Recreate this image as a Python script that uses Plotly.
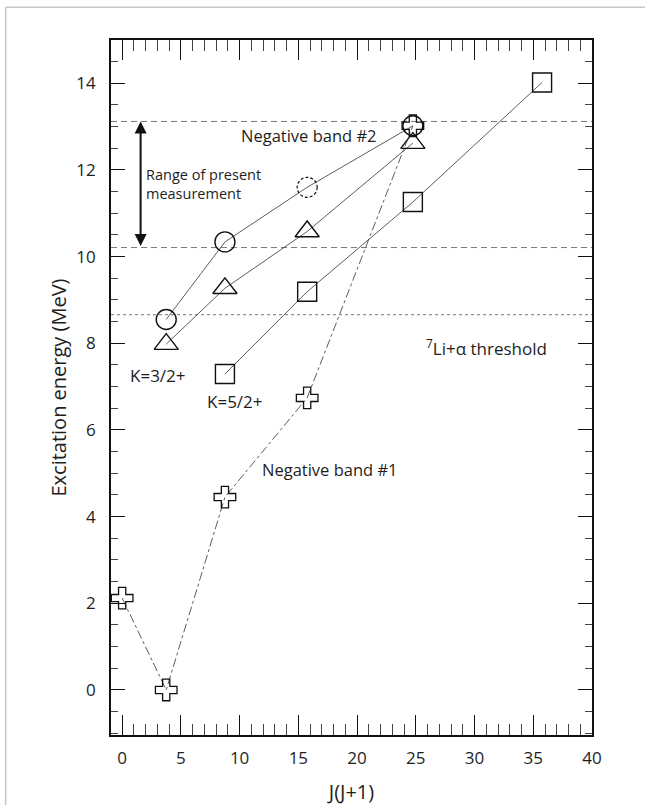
import plotly.graph_objects as go

# ---- data ----
jj_circle = [3.75, 8.75, 15.75, 24.75]
e_circle = [8.55, 10.34, 11.6, 13.02]
tentative_flags = [False, False, True, False]

jj_triangle = [3.75, 8.75, 15.75, 24.75]
e_triangle = [7.98, 9.27, 10.58, 12.62]

jj_square = [8.75, 15.75, 24.75, 35.75]
e_square = [7.29, 9.19, 11.26, 14.02]

jj_cross = [0.0, 3.75, 8.75, 15.75, 24.75]
e_cross = [2.12, 0.0, 4.45, 6.74, 13.02]

band2_levels = [13.12, 10.21]
threshold_level = [8.66]

x_ticks = [0, 5, 10, 15, 20, 25, 30, 35, 40]
y_ticks = [0, 2, 4, 6, 8, 10, 12, 14]

FONT = "Open Sans"
X_RANGE = [-0.95, 40]
Y_RANGE = [-1.04, 15.0]
TXT = "#1e1e1e"

fig = go.Figure()

line_style = dict(color="#333333", width=0.8)
mk_line = dict(color="#111111", width=1.4)

# circles (solid markers except tentative one)
fig.add_trace(go.Scatter(x=jj_circle, y=e_circle, mode="lines", line=line_style,
                         showlegend=False, hoverinfo="skip"))
fig.add_trace(go.Scatter(
    x=[x for x, t in zip(jj_circle, tentative_flags) if not t],
    y=[y for y, t in zip(e_circle, tentative_flags) if not t],
    mode="markers", showlegend=False,
    marker=dict(symbol="circle-open", size=20, line=mk_line, color="#111111")))

# triangles
fig.add_trace(go.Scatter(x=jj_triangle, y=e_triangle, mode="lines+markers", line=line_style,
                         showlegend=False,
                         marker=dict(symbol="triangle-up-open", size=21, line=mk_line, color="#111111")))

# squares
fig.add_trace(go.Scatter(x=jj_square, y=e_square, mode="lines+markers", line=line_style,
                         showlegend=False,
                         marker=dict(symbol="square-open", size=19, line=mk_line, color="#111111")))

# crosses (negative band #1)
fig.add_trace(go.Scatter(x=jj_cross, y=e_cross, mode="lines",
                         line=dict(color="#333333", width=0.8, dash="dashdot"),
                         showlegend=False, hoverinfo="skip"))
fig.add_trace(go.Scatter(x=jj_cross, y=e_cross, mode="markers", showlegend=False,
                         marker=dict(symbol="cross-open", size=18, line=dict(color="#111111", width=1.3),
                                     color="#111111")))

shapes = []
# horizontal reference lines
for lv in band2_levels:
    shapes.append(dict(type="line", xref="paper", x0=0, x1=1, yref="y", y0=lv, y1=lv,
                       line=dict(color="#777777", width=1, dash="6px,4px"), layer="below"))
for lv in threshold_level:
    shapes.append(dict(type="line", xref="paper", x0=0, x1=1, yref="y", y0=lv, y1=lv,
                       line=dict(color="#777777", width=1, dash="dot"), layer="below"))

# tentative (dashed) circle
for x, y, t in zip(jj_circle, e_circle, tentative_flags):
    if t:
        shapes.append(dict(type="circle", xref="x", yref="y", xsizemode="pixel", ysizemode="pixel",
                           xanchor=x, yanchor=y, x0=-10, x1=10, y0=-10, y1=10,
                           line=dict(color="#111111", width=1.2, dash="3px,2px"),
                           fillcolor="rgba(0,0,0,0)"))

# outer light border (top & left)
shapes.append(dict(type="line", xref="paper", yref="paper", x0=-0.219, x1=1.15, y0=1.047, y1=1.047,
                   line=dict(color="#c8c8c8", width=1.5)))
shapes.append(dict(type="line", xref="paper", yref="paper", x0=-0.219, x1=-0.219, y0=1.047, y1=-0.2,
                   line=dict(color="#c8c8c8", width=1.5)))

annotations = [
    dict(x=1.57, y=band2_levels[0], ax=1.57, ay=band2_levels[1], xref="x", yref="y",
         axref="x", ayref="y", showarrow=True, arrowhead=2, startarrowhead=2,
         arrowside="end+start", arrowsize=1.2, arrowwidth=2, arrowcolor="#111111", text=""),
    dict(x=1.9, y=11.68, xref="x", yref="y", xanchor="left", yanchor="middle", showarrow=False,
         text="Range of present<br>measurement", align="left",
         font=dict(family=FONT, size=14.5, color=TXT)),
    dict(x=15.9, y=12.8, xref="x", yref="y", xanchor="center", yanchor="middle", showarrow=False,
         text="Negative band #2", font=dict(family=FONT, size=16.5, color=TXT)),
    dict(x=3.03, y=7.26, xref="x", yref="y", xanchor="center", yanchor="middle", showarrow=False,
         text="K=3/2+", font=dict(family=FONT, size=17, color=TXT)),
    dict(x=9.58, y=6.66, xref="x", yref="y", xanchor="center", yanchor="middle", showarrow=False,
         text="K=5/2+", font=dict(family=FONT, size=17, color=TXT)),
    dict(x=17.7, y=5.08, xref="x", yref="y", xanchor="center", yanchor="middle", showarrow=False,
         text="Negative band #1", font=dict(family=FONT, size=16.5, color=TXT)),
    dict(x=31.0, y=7.9, xref="x", yref="y", xanchor="center", yanchor="middle", showarrow=False,
         text="<sup>7</sup>Li+α threshold", font=dict(family=FONT, size=17, color=TXT)),
]

fig.update_layout(
    width=645, height=805,
    margin=dict(l=111, r=53, t=40, b=70),
    paper_bgcolor="white", plot_bgcolor="white",
    font=dict(family=FONT, size=17, color=TXT),
    shapes=shapes, annotations=annotations,
)

fig.update_xaxes(
    range=X_RANGE, tickvals=x_ticks, ticktext=[str(v) for v in x_ticks],
    ticks="inside", ticklen=20, tickwidth=1.3, tickcolor="#111111",
    minor=dict(dtick=1, tick0=0, ticks="inside", ticklen=11, tickwidth=1, tickcolor="#444444"),
    showline=True, linecolor="#111111", linewidth=1.6, mirror="ticks",
    showgrid=False, zeroline=False, automargin=False,
    tickfont=dict(family=FONT, size=17, color=TXT),
    ticklabelstandoff=7,
    title=dict(text="J(J+1)", font=dict(family=FONT, size=20, color=TXT), standoff=20),
)
fig.update_yaxes(
    range=Y_RANGE, tickvals=y_ticks, ticktext=[str(v) for v in y_ticks],
    ticks="inside", ticklen=14, tickwidth=1.3, tickcolor="#111111",
    minor=dict(dtick=0.5, tick0=0, ticks="inside", ticklen=7, tickwidth=1, tickcolor="#444444"),
    showline=True, linecolor="#111111", linewidth=1.6, mirror="ticks",
    showgrid=False, zeroline=False, automargin=False,
    tickfont=dict(family=FONT, size=17, color=TXT),
    ticklabelstandoff=10,
    title=dict(text="Excitation energy (MeV)", font=dict(family=FONT, size=20, color=TXT), standoff=4),
)

fig.write_html("out.html")
